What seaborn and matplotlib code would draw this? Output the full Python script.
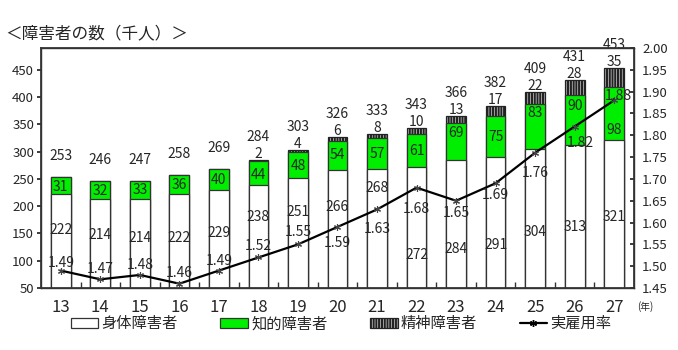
import numpy as np
import pandas as pd
import matplotlib
matplotlib.use('Agg')
import matplotlib.pyplot as plt
import seaborn as sns
from matplotlib.patches import Patch
from matplotlib.lines import Line2D
from matplotlib.ticker import FixedLocator, FormatStrFormatter, MultipleLocator

# ---- data ----
years = ['13', '14', '15', '16', '17', '18', '19', '20', '21', '22', '23', '24', '25', '26', '27']
physical = [222, 214, 214, 222, 229, 238, 251, 266, 268, 272, 284, 291, 304, 313, 321]
intellectual = [31, 32, 33, 36, 40, 44, 48, 54, 57, 61, 69, 75, 83, 90, 98]
mental = [0, 0, 0, 0, 0, 2, 4, 6, 8, 10, 13, 17, 22, 28, 35]
totals = [253, 246, 247, 258, 269, 284, 303, 326, 333, 343, 366, 382, 409, 431, 453]
rate = [1.49, 1.47, 1.48, 1.46, 1.49, 1.52, 1.55, 1.59, 1.63, 1.68, 1.65, 1.69, 1.76, 1.82, 1.88]

# ---- label placement (layout only) ----
phys_label_y = [156, 147, 142, 142, 151, 180, 190, 199, 233, 110, 121, 129, 153, 162, 180]
intel_label_y = [235, 228, 230, 239, 248, 257, 274, 294, 296, 301, 334, 327, 371, 384, 340]
rate_label_dx = [0, 0, 0, 0, 0, 0, 0, 0, 0, 0, 0, 0, 0, 6, 4]
rate_label_dy = [8, 10, 10, 11, 10, 11, 12, -16, -20, -21, -12, -12, -20, -16, 4]

sns.set_theme(style='white')
plt.rcParams['font.family'] = ['Noto Sans CJK JP', 'DejaVu Sans']
plt.rcParams['hatch.linewidth'] = 1.6

GREEN = '#00ee00'
EDGE = '#333333'
HATCH = '||||||'

fig = plt.figure(figsize=(6.78, 3.5), dpi=100)
ax = fig.add_axes([0.0605, 0.177, 0.8745, 0.686])

df = pd.DataFrame({'year': years, 'phys': physical, 'intel': intellectual, 'ment': mental})
df['top2'] = df['phys'] + df['intel']
df['top3'] = df['top2'] + df['ment']

common = dict(x='year', width=0.5, linewidth=0.9, saturation=1, ax=ax, errorbar=None)
sns.barplot(data=df, y='top3', color='white', hatch=HATCH, edgecolor='#222222', **common)
sns.barplot(data=df, y='top2', color=GREEN, edgecolor=EDGE, **common)
sns.barplot(data=df, y='phys', color='white', edgecolor=EDGE, **common)

ax.set_ylim(50, 490)
ax.set_xlim(-0.5, len(years) - 0.5)
ax.yaxis.set_major_locator(FixedLocator(list(range(50, 451, 50))))
ax.set_xlabel('')
ax.set_ylabel('')
ax.tick_params(axis='y', labelsize=9.5, length=3, direction='out', left=True, pad=2)
ax.tick_params(axis='x', labelsize=12, length=0, pad=8)
ax.xaxis.set_minor_locator(FixedLocator(np.arange(0.5, len(years) - 1, 1.0)))
ax.tick_params(axis='x', which='minor', bottom=True, direction='in', length=4, color=EDGE)
for s in ax.spines.values():
    s.set_color(EDGE)
    s.set_linewidth(1.0)

# labels in bars
for i in range(len(years)):
    top3 = df['top3'][i]
    ax.text(i, phys_label_y[i], str(physical[i]), ha='center', va='center', fontsize=10)
    ax.text(i, intel_label_y[i], str(intellectual[i]), ha='center', va='center', fontsize=10)
    if mental[i] > 0:
        ax.annotate(str(mental[i]), (i, top3), xytext=(0, 6), textcoords='offset pixels',
                    ha='center', va='center', fontsize=10)
        ax.annotate(str(totals[i]), (i, top3), xytext=(0, 23), textcoords='offset pixels',
                    ha='center', va='center', fontsize=10)
    else:
        ax.annotate(str(totals[i]), (i, top3), xytext=(0, 21), textcoords='offset pixels',
                    ha='center', va='center', fontsize=10)

# employment rate line
ax2 = ax.twinx()
xs = np.arange(len(years))
sns.lineplot(x=xs, y=rate, ax=ax2, color='black', linewidth=1.6,
             marker=(6, 2, 0), markersize=5, markeredgecolor='#444444', markeredgewidth=0.8)
ax2.set_ylim(1.45, 2.00)
ax2.yaxis.set_major_locator(MultipleLocator(0.05))
ax2.yaxis.set_major_formatter(FormatStrFormatter('%.2f'))
ax2.tick_params(axis='y', labelsize=9.5, length=3, direction='in', right=True, pad=6)
ax2.set_xlim(-0.5, len(years) - 0.5)
for s in ax2.spines.values():
    s.set_color(EDGE)
for i in range(len(years)):
    ax2.annotate(f'{rate[i]:.2f}', (xs[i], rate[i]), xytext=(rate_label_dx[i], rate_label_dy[i]),
                 textcoords='offset pixels', ha='center', va='center', fontsize=10)

# title and unit
fig.text(0.008, 0.903, '＜障害者の数（千人）＞', fontsize=12, ha='left', va='center')
fig.text(0.940, 0.125, '(年)', fontsize=7, ha='left', va='center')

# legend
handles = [
    Patch(facecolor='white', edgecolor=EDGE, linewidth=0.9),
    Patch(facecolor=GREEN, edgecolor=EDGE, linewidth=0.9),
    Patch(facecolor='white', edgecolor='#222222', hatch=HATCH, linewidth=0.9),
    Line2D([0], [0], color='black', linewidth=1.6, marker=(6, 2, 0), markersize=5),
]
labels = ['身体障害者', '知的障害者', '精神障害者', '実雇用率']
fig.legend(handles, labels, loc='center', bbox_to_anchor=(0.503, 0.075), ncol=4, frameon=False,
           fontsize=11, handlelength=1.8, handleheight=0.6, handletextpad=0.2, columnspacing=2.8)

fig.savefig('out.png', dpi=100)
